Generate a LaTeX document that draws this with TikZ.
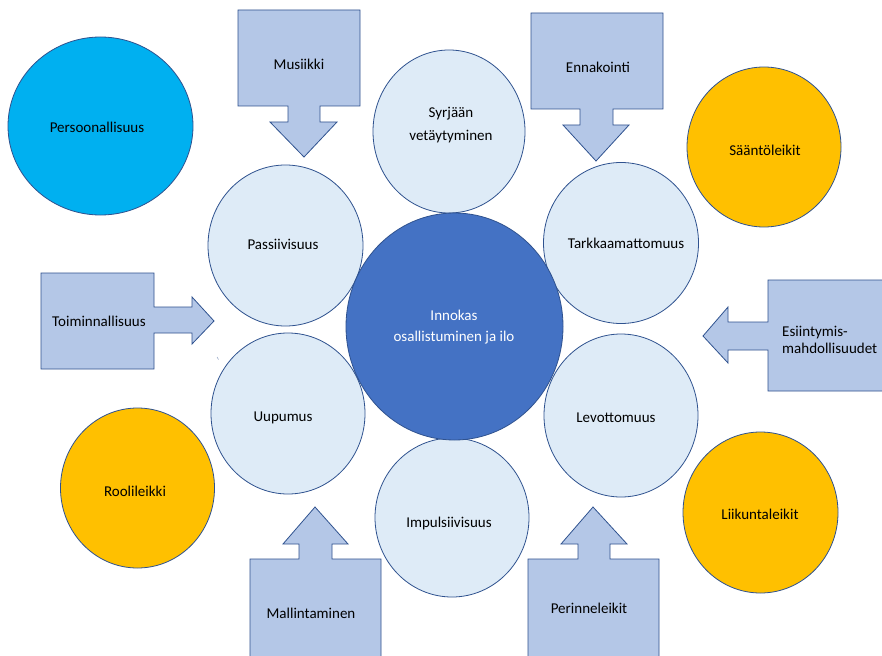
\documentclass[tikz,border=0pt]{standalone}
\usepackage{fontspec}
\setmainfont{Carlito}
\usetikzlibrary{shapes.geometric}
\definecolor{lightc}{HTML}{DEEBF7}
\definecolor{edgec}{HTML}{2F528F}
\definecolor{centerc}{HTML}{4472C4}
\definecolor{boxc}{HTML}{B4C7E7}
\definecolor{cyanc}{HTML}{00B0F0}
\definecolor{goldc}{HTML}{FFC000}
\tikzset{
  circ/.style={ellipse, draw=edgec, line width=0.8pt, inner sep=0pt,
    minimum width=154pt, minimum height=160pt, align=center, text=black,
    font=\fontsize{15}{22}\selectfont},
  lightcirc/.style={circ, fill=lightc},
  goldcirc/.style={circ, fill=goldc},
  callout/.style={draw=edgec, line width=0.8pt, fill=boxc},
  lbl/.style={inner sep=0pt, text=black, align=center, font=\fontsize{15}{18}\selectfont}
}
\begin{document}
\begin{tikzpicture}[x=1pt,y=-1pt]
\useasboundingbox[fill=white] (0,0) rectangle (882,655);
% callouts
\draw[callout] (238,10) -- (360,10) -- (360,106) -- (320,106) -- (320,122) -- (337,122) -- (304,157) -- (270,122) -- (288,122) -- (288,106) -- (238,106) -- cycle;
\node[lbl] (musiikki) at (299,64) {Musiikki};
\draw[callout] (531,13) -- (663,13) -- (663,109) -- (613,109) -- (613,125) -- (629,125) -- (596,161) -- (563,125) -- (580,125) -- (580,109) -- (531,109) -- cycle;
\node[lbl] (ennakointi) at (598,67) {Ennakointi};
\draw[callout] (41,273) -- (154,273) -- (154,307) -- (192,307) -- (192,297) -- (214,321) -- (192,344) -- (192,333) -- (154,333) -- (154,369) -- (41,369) -- cycle;
\node[lbl] (toim) at (99,321) {Toiminnallisuus};
\draw[callout] (768,280) -- (890,280) -- (890,391) -- (768,391) -- (768,350) -- (728,350) -- (728,363) -- (703,336) -- (728,307) -- (728,322) -- (768,322) -- cycle;
\node[lbl, align=left, anchor=west, font=\fontsize{15}{17}\selectfont] (esi) at (782,340) {Esiintymis-\\mahdollisuudet};
\draw[callout] (250,658) -- (250,559) -- (299,559) -- (299,544) -- (283,544) -- (315,507) -- (348,544) -- (332,544) -- (332,559) -- (381,559) -- (381,658) -- cycle;
\node[lbl] (mallin) at (311,613) {Mallintaminen};
\draw[callout] (528,658) -- (528,559) -- (578,559) -- (578,544) -- (561,544) -- (593,507) -- (627,544) -- (610,544) -- (610,559) -- (659,559) -- (659,658) -- cycle;
\node[lbl] (perinne) at (589,608) {Perinneleikit};
% outer circles
\node[circ, fill=cyanc, minimum width=185pt, minimum height=178pt] (pers) at (100.5,126) {};
\node[lbl] at (97,127) {Persoonallisuus};
\node[goldcirc] (saanto) at (764,147) {};
\node[lbl] at (765,150) {Sääntöleikit};
\node[goldcirc] (rooli) at (137.5,488) {};
\node[lbl] at (135,491) {Roolileikki};
\node[goldcirc, minimum width=155pt, minimum height=161pt] (liikunta) at (760.5,512.5) {};
\node[lbl] at (760,514) {Liikuntaleikit};
% inner ring
\node[lightcirc, minimum width=152pt, minimum height=163pt] (syrjaan) at (449,131.5) {};
\node[lbl, font=\fontsize{15}{23}\selectfont] at (451,125.5) {Syrjään\\vetäytyminen};
\node[lightcirc, minimum width=155pt, minimum height=161pt] (pass) at (285.5,245.5) {};
\node[lbl] at (283,244) {Passiivisuus};
\node[lightcirc, minimum width=155pt, minimum height=161pt] (tark) at (621,243) {};
\node[lbl] at (626,243) {Tarkkaamattomuus};
\node[lightcirc, minimum width=154pt, minimum height=161pt] (uup) at (288,413.5) {};
\node[lbl] at (283,418) {Uupumus};
\node[lightcirc, minimum width=154pt, minimum height=163pt] (levo) at (621,415.5) {};
\node[lbl] at (616,418) {Levottomuus};
\node[lightcirc, minimum width=154pt, minimum height=159pt] (impu) at (452,517.5) {};
\node[lbl] at (449,523) {Impulsiivisuus};
% center
\node[circ, fill=centerc, minimum width=217pt, minimum height=227pt] (center) at (454.5,326.5) {};
\node[lbl, text=white, font=\fontsize{15}{21}\selectfont] at (454,327.5) {Innokas\\osallistuminen ja ilo};
% stray mark
\draw[edgec!60, line width=0.5pt] (217,357) -- (218.5,359.5);
\end{tikzpicture}
\end{document}
